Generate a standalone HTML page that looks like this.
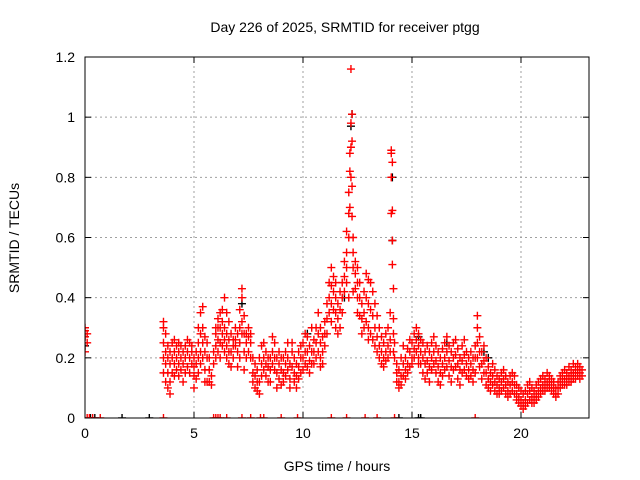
<!DOCTYPE html>
<html><head><meta charset="utf-8"><style>
html,body{margin:0;padding:0;background:#fff}
svg{display:block;font-family:"Liberation Sans",sans-serif}
</style></head><body>
<svg id="chart" width="640" height="480" viewBox="0 0 640 480">
<rect width="640" height="480" fill="#fff"/>
<text x="345" y="32" font-size="14" text-anchor="middle">Day 226 of 2025, SRMTID for receiver ptgg</text>
<g id="grid"></g>
<g id="ticks"></g>
<text x="337" y="471" font-size="14" text-anchor="middle">GPS time / hours</text>
<text x="19" y="238" font-size="14" text-anchor="middle" transform="rotate(-90 19 238)">SRMTID / TECUs</text>
<defs><clipPath id="pc"><rect x="85" y="57" width="504" height="361"/></clipPath></defs>
<g id="marks" clip-path="url(#pc)"></g>
<rect x="85" y="57" width="504" height="361" fill="none" stroke="#000" stroke-width="1"/>
</svg>
<script>
const xTicks=[0,5,10,15,20];
const yTicks=[0,0.2,0.4,0.6,0.8,1,1.2];
const yTickLabels=["0","0.2","0.4","0.6","0.8","1","1.2"];
const redTimes=[0,0.1,3.6,3.7,3.8,3.9,4.0,4.1,4.2,4.3,4.4,4.5,4.6,4.7,4.8,4.9,5.0,5.1,5.2,5.3,5.4,5.5,5.6,5.7,5.8,5.9,6.0,6.1,6.2,6.3,6.4,6.5,6.6,6.7,6.8,6.9,7.0,7.1,7.2,7.3,7.4,7.5,7.6,7.7,7.8,7.9,8.0,8.1,8.2,8.3,8.4,8.5,8.6,8.7,8.8,8.9,9.0,9.1,9.2,9.3,9.4,9.5,9.6,9.7,9.8,9.9,10.0,10.1,10.2,10.3,10.4,10.5,10.6,10.7,10.8,10.9,11.0,11.1,11.2,11.3,11.4,11.5,11.6,11.7,11.8,11.9,12.0,12.1,12.15,12.2,12.25,12.3,12.4,12.5,12.6,12.7,12.8,12.9,13.0,13.1,13.2,13.3,13.4,13.5,13.6,13.7,13.8,13.9,14.0,14.05,14.1,14.15,14.2,14.3,14.4,14.5,14.6,14.7,14.8,14.9,15.0,15.1,15.2,15.3,15.4,15.5,15.6,15.7,15.8,15.9,16.0,16.1,16.2,16.3,16.4,16.5,16.6,16.7,16.8,16.9,17.0,17.1,17.2,17.3,17.4,17.5,17.6,17.7,17.8,17.9,18.0,18.1,18.2,18.3,18.4,18.5,18.6,18.7,18.8,18.9,19.0,19.1,19.2,19.3,19.4,19.5,19.6,19.7,19.8,19.9,20.0,20.1,20.2,20.3,20.4,20.5,20.6,20.7,20.8,20.9,21.0,21.1,21.2,21.3,21.4,21.5,21.6,21.7,21.8,21.9,22.0,22.1,22.2,22.3,22.4,22.5,22.6,22.7,22.8];
const redValues=[[.22,.27,.29,.30],[.25,.28],[.32,.30,.25,.2,.15],[.28,.22,.18,.12],[.2,.15,.1,.24],[.18,.12,.08,.22],[.2,.15,.25],[.22,.18,.26,.14],[.24,.2,.16],[.22,.18,.14,.25],[.2,.16,.24],[.22,.18,.12],[.24,.2,.15],[.22,.17,.26],[.25,.2,.15],[.22,.18,.24],[.2,.14,.1,.17],[.18,.13,.22],[.25,.3,.2,.15],[.35,.28,.22,.18],[.3,.25,.2,.37],[.27,.22,.16,.12],[.25,.2,.12],[.16,.12,.2],[.14,.11],[.18,.22],[.28,.24,.2,.3],[.3,.26,.22,.33],[.35,.3,.25,.2],[.32,.28,.24,.36],[.3,.26,.22,.4],[.28,.24,.2,.35],[.32,.26,.22,.18],[.28,.22,.17],[.24,.2,.26],[.3,.26,.24],[.28,.22,.17],[.36,.3,.25,.2],[.43,.4,.32,.28],[.34,.28,.22,.16],[.28,.25,.2],[.3,.27,.22],[.28,.25,.2],[.2,.15,.12],[.18,.14,.1],[.16,.12,.09],[.12,.08,.2],[.24,.18,.14],[.25,.2,.16],[.22,.18,.14],[.2,.17,.12],[.16,.12,.2],[.22,.18,.27],[.25,.2,.16],[.2,.15,.1],[.18,.13,.22],[.16,.11,.2],[.2,.15,.12],[.22,.18,.14],[.2,.16,.25],[.18,.13,.1],[.22,.17,.25],[.2,.15,.12],[.18,.14,.1],[.22,.17,.13],[.24,.2,.15],[.25,.2,.16],[.28,.22,.18],[.27,.22,.17],[.24,.19,.15],[.22,.18,.3],[.26,.22,.18],[.3,.25,.2],[.35,.28,.22],[.3,.25,.2,.17],[.27,.22,.18],[.32,.28,.24],[.38,.33,.28],[.45,.4,.35],[.5,.44,.38,.32],[.47,.42,.36],[.4,.35,.3,.45],[.38,.33,.28],[.42,.36,.3],[.45,.4,.35],[.52,.47,.42],[.62,.55,.5,.45],[.75,.68,.6,.4],[.88,.82,.7],[1.16,.98,.9,.8],[1.01,.92,.77,.67],[.6,.55,.5,.42],[.52,.48,.43],[.5,.45,.4,.35],[.45,.4,.34],[.38,.33,.28],[.35,.3,.42],[.48,.4,.32],[.46,.38,.3,.26],[.45,.36,.28],[.42,.34,.26],[.38,.3,.24],[.34,.27,.22],[.3,.24,.2],[.27,.22,.18],[.25,.2,.17],[.28,.22,.19],[.3,.24,.2],[.26,.22,.35],[.89,.88,.8,.68],[.85,.69,.59,.51],[.43,.33,.28,.22],[.25,.2],[.15,.12,.18],[.12,.1,.16],[.14,.11,.2],[.18,.14,.24],[.2,.16,.13],[.23,.18,.15],[.22,.17,.26],[.25,.2,.18],[.28,.23,.2],[.3,.26,.22],[.28,.24,.2,.18],[.26,.22,.18],[.25,.2,.15],[.22,.18,.13],[.24,.19,.15],[.22,.17,.12],[.25,.2,.16],[.27,.22,.18],[.24,.19,.15],[.22,.17,.12],[.2,.15,.11],[.23,.18,.14],[.25,.2,.16],[.27,.22,.17],[.24,.19,.14],[.22,.17,.12],[.25,.2,.16],[.26,.21,.17],[.23,.18,.13],[.2,.16,.11],[.24,.19,.15],[.26,.21,.16],[.22,.18,.14],[.2,.16,.13],[.22,.18,.14],[.2,.16,.12],[.24,.2,.15],[.34,.3,.25,.2],[.27,.22,.17],[.22,.18,.13],[.24,.19,.15],[.2,.15,.11],[.17,.13,.1],[.15,.12,.09],[.18,.14,.11],[.16,.12,.09],[.14,.11,.08],[.13,.1,.08],[.15,.12,.09],[.16,.13,.1],[.14,.11,.08],[.12,.09,.07],[.14,.11,.08],[.15,.12,.09],[.14,.11,.08],[.11,.08,.06],[.1,.07,.05],[.09,.06,.04],[.08,.05,.03],[.09,.06,.04],[.11,.08,.05],[.12,.09,.06],[.1,.07,.05],[.09,.07,.05],[.11,.08,.06],[.12,.09,.07],[.13,.1,.08],[.14,.11,.09],[.13,.11,.09],[.15,.12,.1],[.14,.12,.1],[.13,.11,.09],[.12,.1,.08],[.1,.08,.07],[.12,.1,.08],[.14,.12,.1],[.15,.13,.11],[.16,.13,.11],[.15,.13,.11],[.17,.14,.12],[.16,.14,.12],[.18,.15,.13],[.17,.15,.13],[.18,.16,.14],[.17,.15,.13],[.16,.14]];
const blackTimes=[0,0,7.2,10.2,11.9,12.2,12.25,14.1,14.1,18.3,18.5,15.3,16.6];
const blackValues=[.27,.24,.38,.28,.4,.97,1.01,.59,.8,.22,.2,.27,.25];
const redZeroTimes=[0.1,0.2,0.35,0.7,3.6,5.9,6.0,6.1,6.2,6.5,7.2,7.6,8.05,8.2,9.0,9.75,11.3,12.0,12.85,13.4,14.2,17.9];
const blackZeroTimes=[0.25,0.45,1.7,2.95,14.4,15.3,15.4];

const X0=85,X1=589,Y0=418,Y1=57,XMAX=23.12,YMAX=1.2;
const sx=t=>X0+t/XMAX*(X1-X0);
const sy=v=>Y0-v/YMAX*(Y0-Y1);
const NS="http://www.w3.org/2000/svg";
const grid=document.getElementById('grid'),ticks=document.getElementById('ticks'),marks=document.getElementById('marks');
function mk(tag,attrs,parent){const e=document.createElementNS(NS,tag);for(const k in attrs)e.setAttribute(k,attrs[k]);parent.appendChild(e);return e;}
yTicks.forEach((v,i)=>{
  const y=sy(v);
  if(v>0&&v<YMAX){const g=mk('line',{x1:X0,x2:X1,y1:y,y2:y,stroke:'#a0a0a0','stroke-dasharray':'2,3'},grid);
  
  }
  mk('line',{x1:X0,x2:X0+6,y1:y,y2:y,stroke:'#000'},ticks);
  mk('line',{x1:X1,x2:X1-6,y1:y,y2:y,stroke:'#000'},ticks);
  const t=mk('text',{x:X0-10,y:y+5,'font-size':14,'text-anchor':'end'},ticks);
  t.textContent=yTickLabels[i];
  
  
});
xTicks.forEach(h=>{
  const x=sx(h);
  if(h>0){const g=mk('line',{x1:x,x2:x,y1:Y0,y2:Y1,stroke:'#a0a0a0','stroke-dasharray':'2,3'},grid);
  
  }
  mk('line',{x1:x,x2:x,y1:Y0,y2:Y0-6,stroke:'#000'},ticks);
  mk('line',{x1:x,x2:x,y1:Y1,y2:Y1+6,stroke:'#000'},ticks);
  const t=mk('text',{x:x,y:Y0+20,'font-size':14,'text-anchor':'middle'},ticks);
  t.textContent=String(h);
  
  
});
function cross(t,v,color,name){
  const x=sx(t),y=sy(v);
  const p=mk('path',{d:`M${x-4} ${y}H${x+4}M${x} ${y-4}V${y+4}`,stroke:color,'stroke-width':1.4,fill:'none'},marks);
  
  
}
blackTimes.forEach((t,i)=>cross(t,blackValues[i],'#000','black-point'));
blackZeroTimes.forEach(t=>cross(t,0,'#000','black-zero-point'));
redTimes.forEach((t,i)=>redValues[i].forEach(v=>cross(t,v,'#ff0000','red-point')));
redZeroTimes.forEach(t=>cross(t,0,'#ff0000','red-zero-point'));
</script>
</body></html>
